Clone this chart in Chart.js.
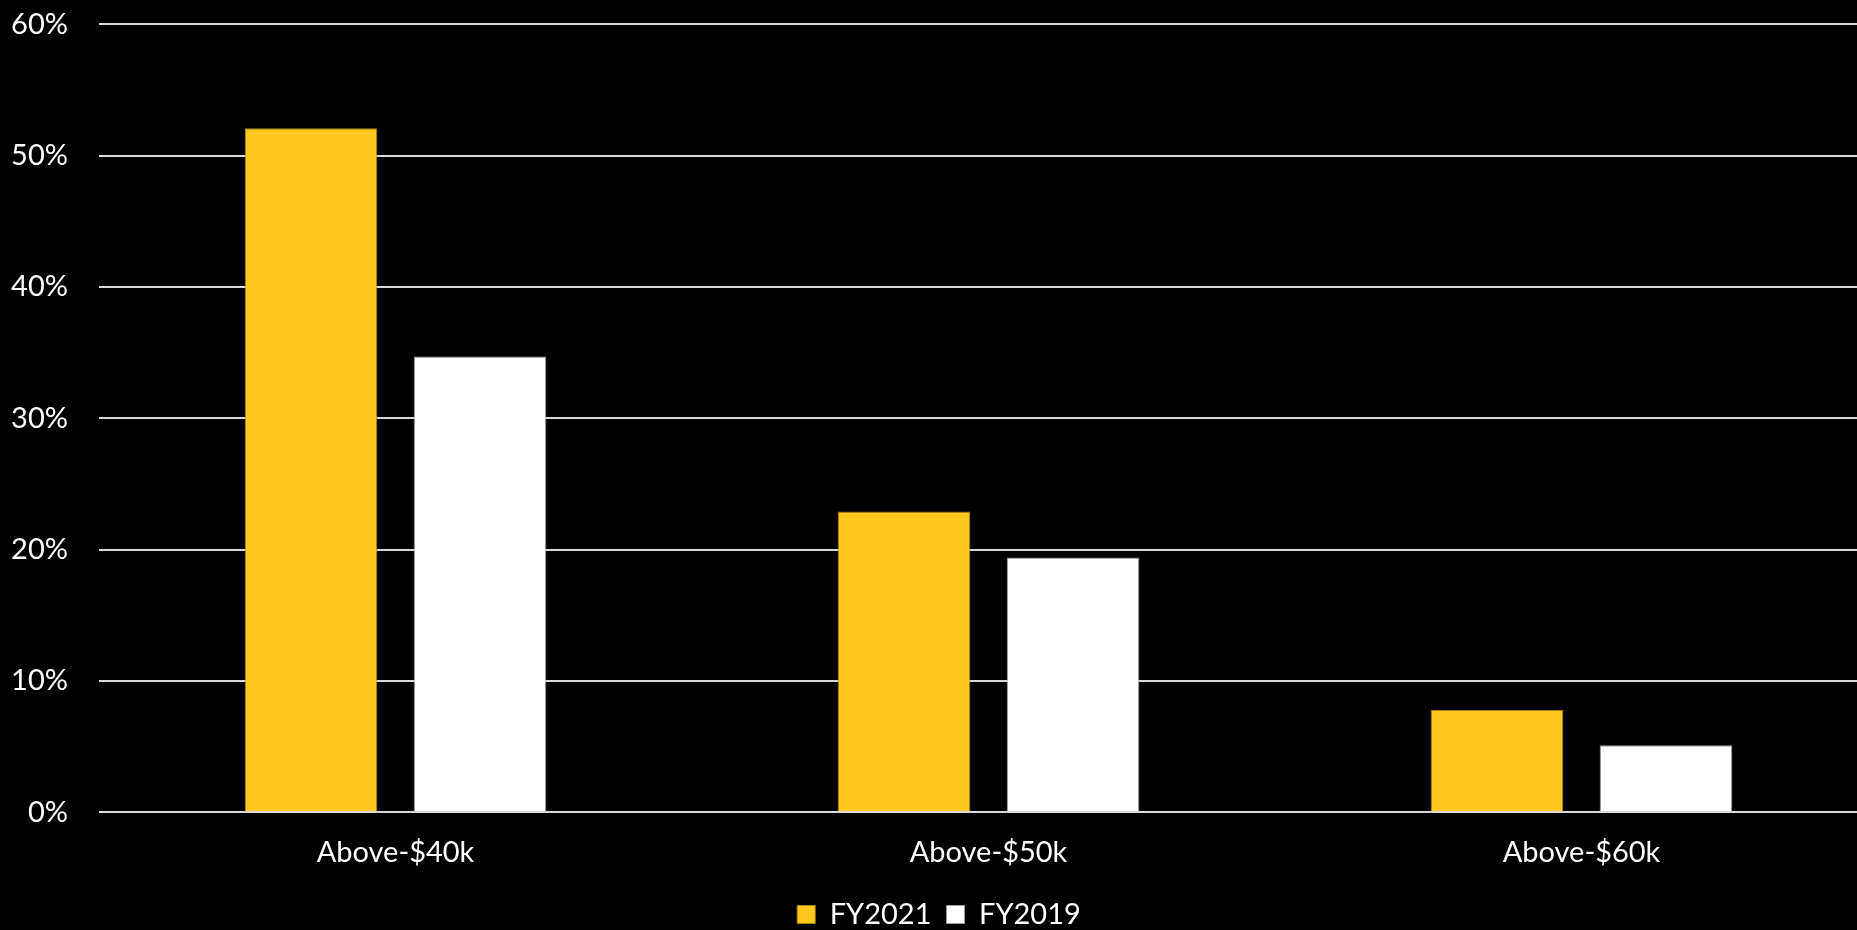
<!DOCTYPE html>
<html>
<head>
<meta charset="utf-8">
<script src="https://cdn.jsdelivr.net/npm/chart.js@4/dist/chart.umd.min.js"></script>
<style>
  html, body { margin: 0; padding: 0; background: #000; overflow: hidden; }
  #wrap { position: relative; width: 1878px; height: 963px; margin-top: -24px; }
</style>
</head>
<body>
<div id="wrap"><canvas id="chart"></canvas></div>
<script>
const categories = ['Above-$40k', 'Above-$50k', 'Above-$60k'];
const fy2021 = [52.1, 22.9, 7.8];
const fy2019 = [34.7, 19.4, 5.1];
const seriesNames = ['FY2021', 'FY2019'];

const yellow = '#FFC81F';
const white = '#FFFFFF';
const gridColor = '#D9D9D9';
const fontFamily = 'Lato, "Open Sans", sans-serif';

Chart.defaults.font.family = fontFamily;
Chart.defaults.color = '#FFFFFF';

const ctx = document.getElementById('chart').getContext('2d');
new Chart(ctx, {
  type: 'bar',
  data: {
    labels: categories,
    datasets: [
      {
        label: seriesNames[0],
        data: fy2021,
        backgroundColor: yellow,
        borderColor: '#A8820E',
        borderWidth: 1,
        barPercentage: 0.785,
        categoryPercentage: 0.57
      },
      {
        label: seriesNames[1],
        data: fy2019,
        backgroundColor: white,
        borderColor: '#9A9A9A',
        borderWidth: 1,
        barPercentage: 0.785,
        categoryPercentage: 0.57
      }
    ]
  },
  options: {
    animation: false,
    responsive: true,
    maintainAspectRatio: false,
    layout: { padding: { top: 0, left: 0, right: 0, bottom: 0 } },
    scales: {
      x: {
        // grid hidden; tick length + tall line height set the gap to the legend
        grid: { display: false, drawTicks: true, tickLength: 8 },
        border: { display: false },
        ticks: { padding: 1, font: { size: 29, lineHeight: 2.166 }, color: '#FFFFFF' }
      },
      y: {
        min: 0,
        max: 60,
        grid: { color: gridColor, lineWidth: 2, drawTicks: false },
        border: { display: false },
        ticks: {
          stepSize: 10,
          padding: 31,
          font: { size: 29 },
          color: '#FFFFFF',
          callback: v => v + '%'
        },
        afterFit: axis => { axis.width = 99; }
      }
    },
    plugins: {
      legend: {
        position: 'bottom',
        labels: {
          boxWidth: 18,
          boxHeight: 18,
          padding: 15,
          font: { size: 29 },
          color: '#FFFFFF'
        }
      },
      tooltip: { enabled: false }
    }
  }
});
</script>
</body>
</html>
